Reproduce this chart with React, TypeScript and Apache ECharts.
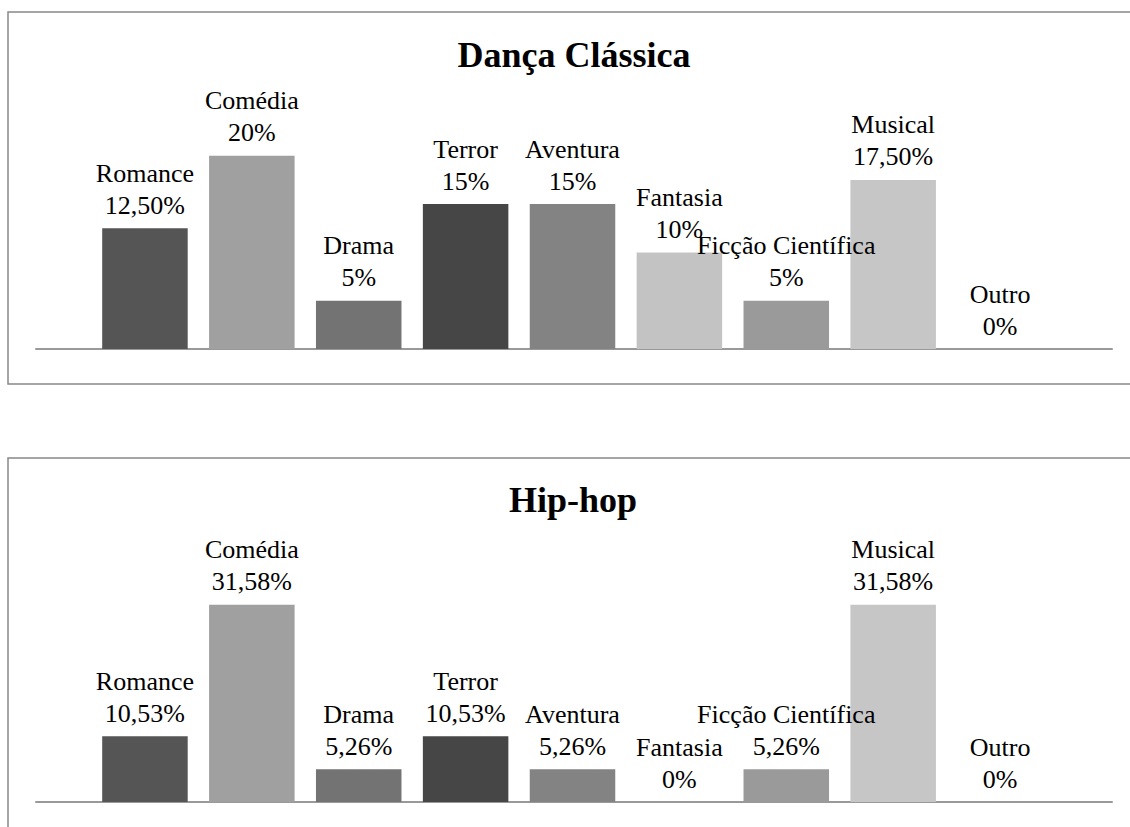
import React, { useEffect, useRef } from "react";
import * as echarts from "echarts";

const categories = [
  "Romance",
  "Comédia",
  "Drama",
  "Terror",
  "Aventura",
  "Fantasia",
  "Ficção Científica",
  "Musical",
  "Outro",
];
const barColors = [
  "#555555",
  "#a0a0a0",
  "#737373",
  "#464646",
  "#838383",
  "#c3c3c3",
  "#9a9a9a",
  "#c6c6c6",
  "#b0b0b0",
];
const title1 = "Dança Clássica";
const title2 = "Hip-hop";
const valuesDanca = [12.5, 20, 5, 15, 15, 10, 5, 17.5, 0];
const valuesHipHop = [10.53, 31.58, 5.26, 10.53, 5.26, 0, 5.26, 31.58, 0];

const FONT = "Liberation Serif";

function fmt(v: number): string {
  if (Number.isInteger(v)) return v + "%";
  return v.toFixed(2).replace(".", ",") + "%";
}

export default function App() {
  const ref = useRef<HTMLDivElement>(null);
  useEffect(() => {
    if (!ref.current) return;
    const chart = echarts.init(ref.current, undefined, { renderer: "svg" });
    const W = 1130;
    const makeSeries = (vals: number[], idx: number) => ({
      type: "bar",
      xAxisIndex: idx,
      yAxisIndex: idx,
      barCategoryGap: "20%",
      data: vals.map((v, i) => ({ value: v, itemStyle: { color: barColors[i] } })),
      label: {
        show: true,
        position: "top",
        distance: 7,
        color: "#000",
        fontFamily: FONT,
        fontSize: 26,
        lineHeight: 32,
        formatter: (p: any) => categories[p.dataIndex] + "\n" + fmt(p.value),
      },
    });
    const option: any = {
      animation: false,
      backgroundColor: "#ffffff",
      textStyle: { fontFamily: FONT },
      grid: [
        { left: 91.5, right: 76.5, top: 107.5, bottom: 827 - 349 },
        { left: 91.5, right: 76.5, top: 552, bottom: 827 - 802 },
        { left: 36, right: W - 1112, top: 107.5, bottom: 827 - 349 },
        { left: 36, right: W - 1112, top: 552, bottom: 827 - 802 },
      ],
      xAxis: [0, 1, 2, 3].map((g) => ({
        type: "category",
        gridIndex: g,
        data: g < 2 ? categories : ["a"],
        axisLine: g < 2 ? { show: false } : { show: true, lineStyle: { color: "#999999", width: 2 } },
        axisTick: { show: false },
        axisLabel: { show: false },
      })),
      yAxis: [0, 1, 2, 3].map((g) => ({
        type: "value",
        gridIndex: g,
        min: 0,
        max: g % 2 === 0 ? 25 : 40,
        show: false,
        splitLine: { show: false },
      })),
      series: [makeSeries(valuesDanca, 0), makeSeries(valuesHipHop, 1)],
      graphic: [
        {
          type: "rect",
          shape: { x: 8, y: 12, width: 1140, height: 372 },
          style: { fill: "none", stroke: "#888888", lineWidth: 1.5 },
          silent: true,
        },
        {
          type: "rect",
          shape: { x: 8, y: 458, width: 1140, height: 400 },
          style: { fill: "none", stroke: "#888888", lineWidth: 1.5 },
          silent: true,
        },
        {
          type: "text",
          x: 574,
          y: 55,
          style: {
            text: title1,
            fontFamily: FONT,
            fontWeight: "bold",
            fontSize: 36,
            fill: "#000",
            textAlign: "center",
            textVerticalAlign: "middle",
          },
        },
        {
          type: "text",
          x: 573,
          y: 500,
          style: {
            text: title2,
            fontFamily: FONT,
            fontWeight: "bold",
            fontSize: 36,
            fill: "#000",
            textAlign: "center",
            textVerticalAlign: "middle",
          },
        },
      ],
    };
    chart.setOption(option);
    return () => chart.dispose();
  }, []);
  return (
    <div
      ref={ref}
      style={{ position: "fixed", left: 0, top: 0, width: 1130, height: 827, background: "#fff" }}
    />
  );
}
